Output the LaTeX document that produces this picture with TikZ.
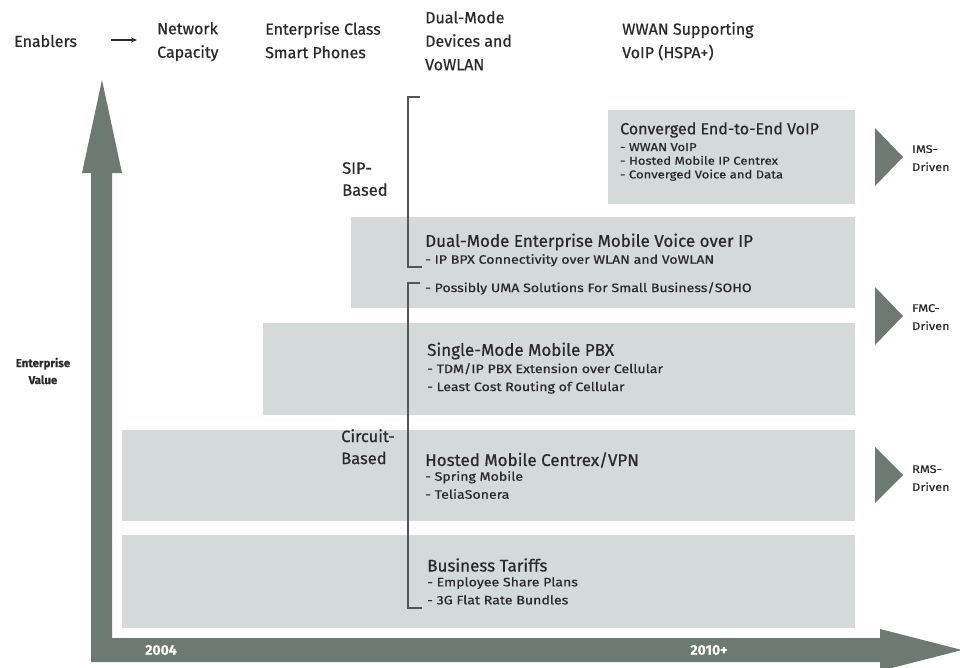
\documentclass[tikz,border=0pt]{standalone}
\usepackage{fontspec}
\usetikzlibrary{arrows.meta}
\setmainfont{Fira Sans}[FakeBold=0.5]
\newfontfamily\mfont{Fira Sans}[FakeBold=0.6]
\newfontfamily\bulfont{Fira Sans}[FakeStretch=1.16,FakeBold=0.6]
\definecolor{axisc}{HTML}{6C7A73}
\definecolor{boxc}{HTML}{D4D9D9}
\definecolor{txtc}{HTML}{2A2A2A}
\tikzset{
  bandbox/.style={fill=boxc, draw=none, anchor=north west, inner sep=0pt},
  hdr/.style={anchor=north west, inner sep=0pt, align=left, text=txtc, font=\mfont\fontsize{16}{23.5}\selectfont},
  ttl/.style={anchor=west, inner sep=0pt, text=txtc, font=\mfont\fontsize{17}{18}\selectfont},
  ttlsm/.style={anchor=west, inner sep=0pt, text=txtc, font=\mfont\fontsize{16}{18}\selectfont},
  bul/.style={anchor=north west, inner sep=0pt, align=left, text=txtc, font=\bulfont\fontsize{12.2}{18}\selectfont},
  bulsm/.style={anchor=north west, inner sep=0pt, align=left, text=txtc, font=\bulfont\fontsize{11.3}{13.7}\selectfont},
  side/.style={anchor=north west, inner sep=0pt, align=left, text=txtc, font=\mfont\fontsize{16.5}{22}\selectfont},
  drv/.style={anchor=north west, inner sep=0pt, align=left, text=txtc, font=\bulfont\fontsize{11}{18}\selectfont},
  tri/.style={fill=axisc, draw=none},
  brk/.style={draw=txtc!80, line width=1.1pt},
  yr/.style={text=white, font=\bfseries\fontsize{14}{15}\selectfont, inner sep=0pt}
}
\begin{document}
\begin{tikzpicture}[x=1pt,y=-1pt]
\useasboundingbox (0,0) rectangle (960,667);
% axes
\fill[axisc] (91,662) -- (91,173) -- (82,173) -- (102,80) -- (122,173) -- (112,173) -- (112,638)
  -- (880,638) -- (880,629) -- (962,650) -- (880,671) -- (880,662) -- cycle;
\node[yr] (y2004) at (161,650) {2004};
\node[yr] (y2010) at (709,650) {2010+};
% header
\node[anchor=west, inner sep=0pt, text=txtc, font=\mfont\fontsize{16}{18}\selectfont] (enab) at (14,41) {Enablers};
\coordinate (ea1) at (111,40);
\coordinate (ea2) at (137,40);
\draw[txtc, line width=1.2pt, -{Stealth[length=6pt,width=5pt]}] (ea1) -- (ea2);
\node[hdr] (h1) at (157,22) {Network\\Capacity};
\node[hdr] (h2) at (265,22) {Enterprise Class\\Smart Phones};
\node[hdr] (h3) at (425,11) {Dual-Mode\\Devices and\\VoWLAN};
\node[hdr] (h4) at (622,22) {WWAN Supporting\\VoIP (HSPA+)};
% y label
\node[align=center, inner sep=0pt, text=txtc, font=\bfseries\fontsize{11.5}{17}\selectfont] (ev) at (43,371) {Enterprise\\Value};
% boxes
\node[bandbox, minimum width=733, minimum height=93] (b1) at (122,535) {};
\node[bandbox, minimum width=733, minimum height=91] (b2) at (122,430) {};
\node[bandbox, minimum width=592, minimum height=92] (b3) at (263,323) {};
\node[bandbox, minimum width=504, minimum height=91] (b4) at (351,217) {};
\node[bandbox, minimum width=247, minimum height=94] (b5) at (608,110) {};
% box texts
\node[ttlsm] (t5) at (620,130) {Converged End-to-End VoIP};
\node[bulsm] (l5) at (620,143) {- WWAN VoIP\\- Hosted Mobile IP Centrex\\- Converged Voice and Data};
\node[ttl] (t4) at (425,242) {Dual-Mode Enterprise Mobile Voice over IP};
\node[bul] (l4) at (425,254) {- IP BPX Connectivity over WLAN and VoWLAN};
\node[bul] (l4b) at (425,282) {- Possibly UMA Solutions For Small Business/SOHO};
\node[ttl] (t3) at (427,351) {Single-Mode Mobile PBX};
\node[bul] (l3) at (427,363) {- TDM/IP PBX Extension over Cellular\\- Least Cost Routing of Cellular};
\node[ttl] (t2) at (425,460) {Hosted Mobile Centrex/VPN};
\node[bul] (l2) at (425,471) {- Spring Mobile\\- TeliaSonera};
\node[ttl] (t1) at (427,565) {Business Tariffs};
\node[bul] (l1) at (427,577) {- Employee Share Plans\\- 3G Flat Rate Bundles};
% side labels
\node[side] (sip) at (342,162) {SIP-\\Based};
\node[side] (cir) at (341,429) {Circuit-\\Based};
% brackets
\coordinate (s1) at (420,97);
\coordinate (s2) at (408,97);
\coordinate (s3) at (408,267);
\coordinate (s4) at (422,267);
\draw[brk] (s1) -- (s2) -- (s3) -- (s4);
\coordinate (c1) at (420,283);
\coordinate (c2) at (408,283);
\coordinate (c3) at (408,608);
\coordinate (c4) at (422,608);
\draw[brk] (c1) -- (c2) -- (c3) -- (c4);
% driver triangles
\fill[tri] (875,128) -- (903,157) -- (875,186) -- cycle;
\node[drv] (ims) at (912,145) {IMS-\\Driven};
\fill[tri] (875,287) -- (903,316) -- (875,345) -- cycle;
\node[drv] (fmc) at (912,304) {FMC-\\Driven};
\fill[tri] (875,447) -- (903,475) -- (875,503) -- cycle;
\node[drv] (rms) at (912,465) {RMS-\\Driven};
\end{tikzpicture}
\end{document}
